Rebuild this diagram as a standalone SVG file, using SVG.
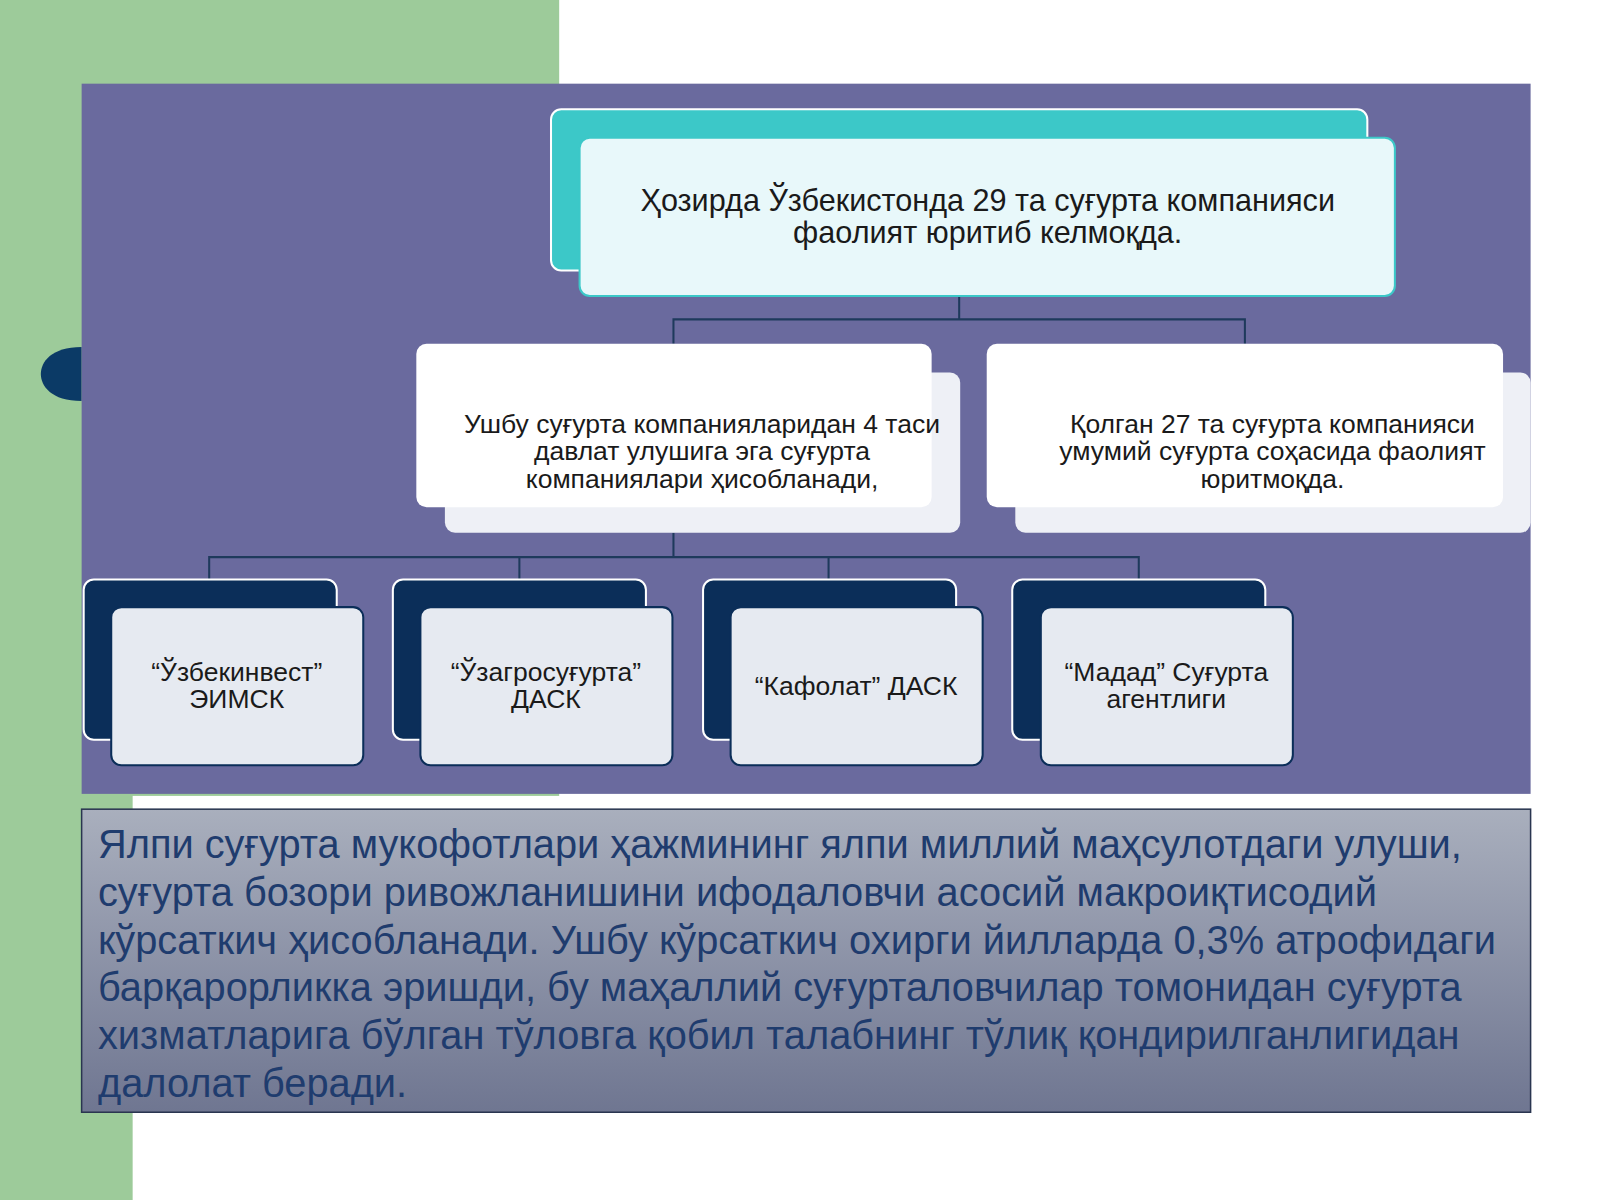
<svg xmlns="http://www.w3.org/2000/svg" width="1600" height="1200" viewBox="0 0 1600 1200">
<defs>
<style>
.t{font-family:"Liberation Sans",Arial,sans-serif;fill:#1a1a1a;text-anchor:middle}
.c{stroke:#1e3a5c;stroke-width:2;fill:none}
.mid{fill:#ffffff}
.midb{fill:#eef0f6}
.dk{fill:#0b2e59;stroke:#fff;stroke-width:2}
.lt{fill:#e6eaf1;stroke:#0b2e59;stroke-width:2}
.p{font-family:"Liberation Sans",Arial,sans-serif;fill:#1f3c6e;font-size:39px}
</style>
<linearGradient id="gb" x1="0" y1="0" x2="0" y2="1"><stop offset="0" stop-color="#a9afbd"/><stop offset="1" stop-color="#6f7691"/></linearGradient>
</defs>
<rect width="1600" height="1200" fill="#fff"/>
<g transform="scale(1.0204)">
<rect x="0" y="0" width="548" height="780" fill="#9dcb9a"/>
<rect x="0" y="770" width="130" height="410" fill="#9dcb9a"/>
<path d="M80 340 C50 340 40 355 40 366.5 C40 378 50 393 80 393 Z" fill="#0b3a66"/>
<rect x="80" y="82" width="1420" height="696" fill="#6a6a9e"/>
<g id="connectors">
<path class="c" d="M940 290V313M660 337V313H1220V337"/>
<path class="c" d="M660 522V546M205 568V546H1116V568M509 546V568M812 546V568"/>
</g>
<g id="top">
<rect x="540" y="107" width="800" height="158" rx="10" fill="#3cc8c8" stroke="#fff" stroke-width="2"/>
<rect x="568" y="135" width="799" height="155" rx="10" fill="#e8f8fa" stroke="#3cc8c8" stroke-width="2"/>
<text class="t" font-size="30" x="968" y="207">Ҳозирда Ўзбекистонда 29 та суғурта компанияси</text>
<text class="t" font-size="30" x="968" y="238">фаолият юритиб келмоқда.</text>
</g>
<g id="mid1">
<rect class="midb" x="436" y="365" width="505" height="157" rx="10"/>
<rect class="mid" x="408" y="337" width="505" height="160" rx="10"/>
<text class="t" font-size="26" x="688" y="424">Ушбу суғурта компанияларидан 4 таси</text>
<text class="t" font-size="26" x="688" y="451">давлат улушига эга суғурта</text>
<text class="t" font-size="26" x="688" y="478">компаниялари ҳисобланади,</text>
</g>
<g id="mid2">
<rect class="midb" x="995" y="365" width="505" height="157" rx="10"/>
<rect class="mid" x="967" y="337" width="506" height="160" rx="10"/>
<text class="t" font-size="26" x="1247" y="424">Қолган 27 та суғурта компанияси</text>
<text class="t" font-size="26" x="1247" y="451">умумий суғурта соҳасида фаолият</text>
<text class="t" font-size="26" x="1247" y="478">юритмоқда.</text>
</g>
<g id="b1">
<rect class="dk" x="82" y="568" width="248" height="157" rx="10"/>
<rect class="lt" x="109" y="595" width="247" height="155" rx="10"/>
<text class="t" font-size="26" x="232" y="667">“Ўзбекинвест”</text>
<text class="t" font-size="26" x="232" y="694">ЭИМСК</text>
</g>
<g id="b2">
<rect class="dk" x="385" y="568" width="248" height="157" rx="10"/>
<rect class="lt" x="412" y="595" width="247" height="155" rx="10"/>
<text class="t" font-size="26" x="535" y="667">“Ўзагросуғурта”</text>
<text class="t" font-size="26" x="535" y="694">ДАСК</text>
</g>
<g id="b3">
<rect class="dk" x="689" y="568" width="248" height="157" rx="10"/>
<rect class="lt" x="716" y="595" width="247" height="155" rx="10"/>
<text class="t" font-size="26" x="839" y="681">“Кафолат” ДАСК</text>
</g>
<g id="b4">
<rect class="dk" x="992" y="568" width="248" height="157" rx="10"/>
<rect class="lt" x="1020" y="595" width="247" height="155" rx="10"/>
<text class="t" font-size="26" x="1143" y="667">“Мадад” Суғурта</text>
<text class="t" font-size="26" x="1143" y="694">агентлиги</text>
</g>
<g id="para">
<rect x="80" y="793" width="1420" height="297" fill="url(#gb)" stroke="#2a3550" stroke-width="1.5"/>
<text class="p" x="96" y="841">Ялпи суғурта мукофотлари ҳажмининг ялпи миллий маҳсулотдаги улуши,</text>
<text class="p" x="96" y="888">суғурта бозори ривожланишини ифодаловчи асосий макроиқтисодий</text>
<text class="p" x="96" y="935">кўрсаткич ҳисобланади. Ушбу кўрсаткич охирги йилларда 0,3% атрофидаги</text>
<text class="p" x="96" y="981">барқарорликка эришди, бу маҳаллий суғурталовчилар томонидан суғурта</text>
<text class="p" x="96" y="1028">хизматларига бўлган тўловга қобил талабнинг тўлиқ қондирилганлигидан</text>
<text class="p" x="96" y="1075">далолат беради.</text>
</g>
</g>
</svg>
